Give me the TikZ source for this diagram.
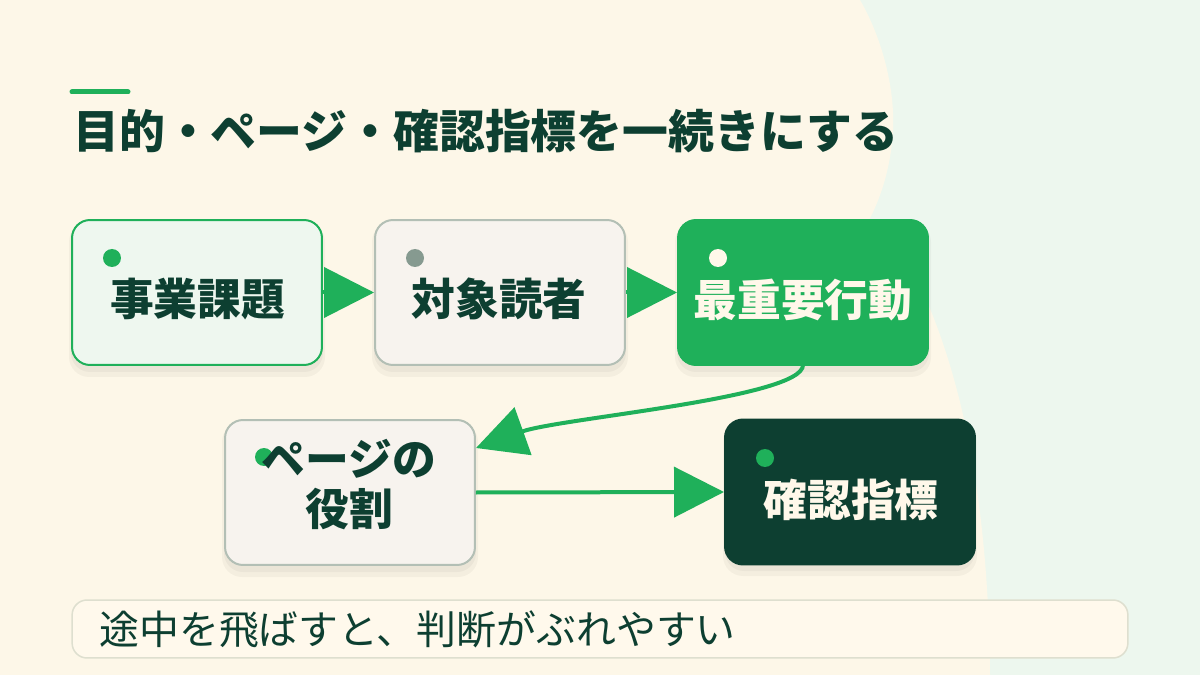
\documentclass[tikz,border=0pt]{standalone}
\usepackage{fontspec}
\setmainfont{Noto Sans CJK JP}
\usetikzlibrary{arrows.meta}
\definecolor{cream}{HTML}{FDF7E8}
\definecolor{palegreen}{HTML}{EDF7EE}
\definecolor{dkgreen}{HTML}{0D3F31}
\definecolor{mgreen}{HTML}{1FB05A}
\definecolor{boxonefill}{HTML}{EEF7EF}
\definecolor{greyfill}{HTML}{F7F3EE}
\definecolor{greyline}{HTML}{B3BFB5}
\definecolor{dotgrey}{HTML}{869A90}
\definecolor{lighttext}{HTML}{FFF8EA}
\definecolor{notefill}{HTML}{FFF9EC}
\definecolor{noteline}{HTML}{DEDFCF}
\newcommand\mysoftshadow[4]{%
  \fill[black,opacity=0.035,rounded corners=0.40cm] (#1-3,#2+2) rectangle (#3+3,#4+12);
  \fill[black,opacity=0.035,rounded corners=0.38cm] (#1-1,#2+2) rectangle (#3+1,#4+7);
}
\begin{document}
\begin{tikzpicture}[x=0.02cm,y=-0.02cm,
  boxbase/.style={minimum width=5cm, minimum height=2.9cm, rounded corners=0.36cm, inner sep=0pt, line width=0.04cm},
  boxtext/.style={inner sep=0pt, font=\fontsize{24.9pt}{28.4pt}\selectfont\bfseries, align=center},
  flow/.style={draw=mgreen, line width=0.08cm, -{Triangle[length=1cm,width=1cm]}},
  dotmark/.style={circle, inner sep=0pt, minimum size=0.36cm}
]
\useasboundingbox (0,0) rectangle (1200,675);
% background
\fill[palegreen] (0,0) rectangle (1200,675);
\fill[cream] (0,0) -- (860,0) .. controls (882,38) and (895,88) .. (893,130)
  .. controls (891,168) and (880,200) .. (868,222)
  -- (890,232) .. controls (935,300) and (988,430) .. (990,675) -- (0,675) -- cycle;
% accent bar and title
\draw[mgreen, line width=0.1cm, line cap=round] (72,92) -- (128,92);
\node[anchor=west, inner sep=0pt, text=dkgreen, font=\fontsize{26.1pt}{30pt}\selectfont\bfseries] (title) at (73,131) {目的・ページ・確認指標を一続きにする};
% shadows
\mysoftshadow{72}{220}{322}{365}
\mysoftshadow{375}{220}{625}{365}
\mysoftshadow{678}{220}{928}{365}
\mysoftshadow{225}{420}{475}{565}
\mysoftshadow{726}{420}{974}{564}
% boxes
\node[boxbase, draw=mgreen, fill=boxonefill] (b1) at (197,292.5) {};
\node[boxbase, draw=greyline, fill=greyfill] (b2) at (500,292.5) {};
\node[boxbase, draw=mgreen, fill=mgreen] (b3) at (803,292.5) {};
\node[boxbase, draw=greyline, fill=greyfill] (b4) at (350,492.5) {};
\node[boxbase, draw=dkgreen, fill=dkgreen] (b5) at (850,492) {};
% dots
\node[dotmark, fill=mgreen] (d1) at (112,258) {};
\node[dotmark, fill=dotgrey] (d2) at (415,258) {};
\node[dotmark, fill=lighttext] (d3) at (718,258) {};
\node[dotmark, fill=mgreen] (d4) at (264,457) {};
\node[dotmark, fill=mgreen] (d5) at (765,458) {};
% texts
\node[boxtext, text=dkgreen] (t1) at (197.5,299) {事業課題};
\node[boxtext, text=dkgreen] (t2) at (499,299) {対象読者};
\node[boxtext, text=lighttext] (t3) at (803,300) {最重要行動};
\node[boxtext, text=dkgreen] (t4a) at (349,459) {ページの};
\node[boxtext, text=dkgreen] (t4b) at (349,509) {役割};
\node[boxtext, text=lighttext] (t5) at (851,500) {確認指標};
% connectors
\draw[flow] (b1.east) -- (b2.west);
\draw[flow] (b2.east) -- (b3.west);
\coordinate (c3) at (803,365);
\coordinate (c4) at (476,448);
\draw[flow] (c3) .. controls (803,398) and (560,418) .. (c4);
\draw[flow] (b4.east) -- (b5.west);
% note
\node[draw=noteline, fill=notefill, line width=0.03cm, rounded corners=0.3cm, minimum width=21.12cm, minimum height=1.16cm, inner sep=0pt] (note) at (600,629) {};
\node[anchor=west, inner sep=0pt, text=dkgreen, font=\fontsize{22.7pt}{26pt}\selectfont] (notetext) at (99,629) {途中を飛ばすと、判断がぶれやすい};
\end{tikzpicture}
\end{document}
